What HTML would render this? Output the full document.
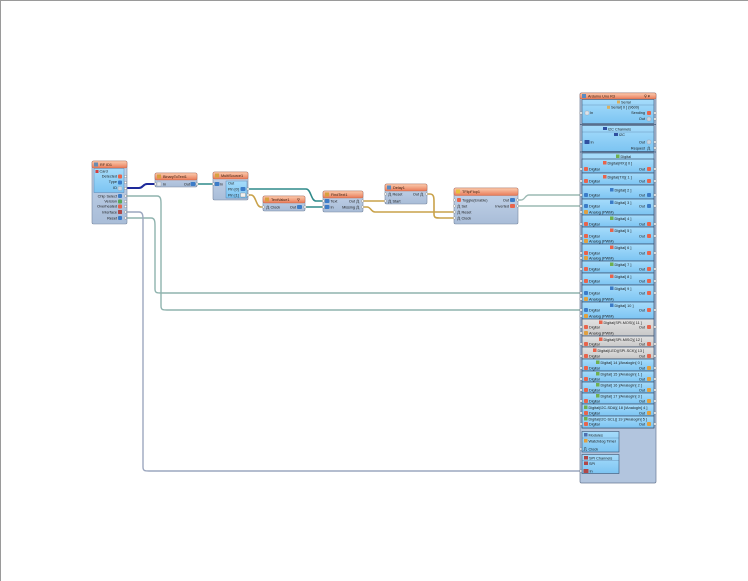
<!DOCTYPE html>
<html><head><meta charset="utf-8">
<style>
html,body{margin:0;padding:0;background:#fff;}
svg{display:block}
text{font-family:"Liberation Sans",sans-serif;font-size:3.8px;fill:#1a1a1a}
.h{font-size:3.8px;fill:#3a2010}
</style></head><body>
<svg width="748" height="581" viewBox="0 0 748 581" xmlns="http://www.w3.org/2000/svg">
<defs>
<linearGradient id="hdr" x1="0" y1="0" x2="0" y2="1"><stop offset="0" stop-color="#fbcdb0"/><stop offset="1" stop-color="#e87a58"/></linearGradient>
<linearGradient id="bd" x1="0" y1="0" x2="0" y2="1"><stop offset="0" stop-color="#c4d4ea"/><stop offset="1" stop-color="#a9bdd8"/></linearGradient>
<linearGradient id="pn" x1="0" y1="0" x2="0" y2="1"><stop offset="0" stop-color="#a6dcfb"/><stop offset="1" stop-color="#7cc4f2"/></linearGradient>
<linearGradient id="gp" x1="0" y1="0" x2="0" y2="1"><stop offset="0" stop-color="#e2e2e2"/><stop offset="1" stop-color="#c8c8c8"/></linearGradient>
</defs>
<rect width="748" height="581" fill="#fff"/>
<line x1="0" y1="0.5" x2="748" y2="0.5" stroke="#9a9a9a" stroke-width="1"/>
<line x1="0.5" y1="0" x2="0.5" y2="581" stroke="#9a9a9a" stroke-width="1"/>

<!-- WIRES -->
<g fill="none" stroke-linecap="round" stroke-linejoin="round">
<path d="M127,188 H139 C143,188 143,184 147,184 H156" stroke="#1e2a9a" stroke-width="2"/>
<path d="M197,184 H213" stroke="#2f8a8a" stroke-width="1.6"/>
<path d="M248,189 H306 C311,189 311,201 316,201 H324" stroke="#2f8a8a" stroke-width="1.6"/>
<path d="M248,195 H251 C256,195 256,207 261,207 H264" stroke="#c9a24a" stroke-width="1.6"/>
<path d="M305,207 H324" stroke="#2f8a8a" stroke-width="1.6"/>
<path d="M363,201 H386" stroke="#c9a24a" stroke-width="1.6"/>
<path d="M363,207 H367 C371,207 371,212 375,212 H455" stroke="#c9a24a" stroke-width="1.6"/>
<path d="M427,194 H430 C434,194 434,198 434,202 V214 C434,218 436,218 440,218 H455" stroke="#c9a24a" stroke-width="1.6"/>
<path d="M518,200 H521 C525,200 525,195 529,195 H581" stroke="#9cbab4" stroke-width="1.4"/>
<path d="M518,206 H521 C525,206 525,206 529,206 H581" stroke="#9cbab4" stroke-width="1.4"/>
<path d="M127,218 H151 C155,218 155,222 155,226 V289 C155,293 157,293 161,293 H581" stroke="#8fb3ae" stroke-width="1.4"/>
<path d="M127,196 H157 C161,196 161,200 161,204 V306 C161,310 163,310 167,310 H581" stroke="#8fb3ae" stroke-width="1.4"/>
<path d="M127,212 H139 C143,212 143,216 143,220 V467 C143,471 145,471 149,471 H581" stroke="#9ca7bf" stroke-width="1.4"/>
</g>

<!-- RFID -->
<g>
<rect x="92" y="161" width="35" height="63" rx="1.5" fill="url(#bd)" stroke="#7888a0" stroke-width="0.6"/>
<rect x="92" y="161" width="35" height="7" rx="1.5" fill="url(#hdr)" stroke="#c06040" stroke-width="0.4"/>
<rect x="94" y="162.5" width="4" height="4" fill="#6a8ab0"/>
<text x="100" y="166" class="h">RF ID1</text>
<rect x="94" y="168.5" width="30" height="24" fill="url(#pn)" stroke="#4a78a8" stroke-width="0.4"/>
<rect x="95.5" y="170" width="3" height="3" fill="#d04040"/>
<text x="99.5" y="172.5">Card</text>
<text x="117" y="177.5" text-anchor="end">Detected</text><rect x="118" y="174.5" width="4" height="4" rx="1" fill="#e8644c"/>
<text x="117" y="183" text-anchor="end">Type</text><rect x="118" y="180.5" width="4" height="4" rx="1" fill="#3c7cc8"/>
<text x="117" y="189" text-anchor="end">ID</text><rect x="118" y="186.5" width="4" height="4" rx="1" fill="#c8d4e0" stroke="#8899aa" stroke-width="0.3"/>
<text x="117" y="197.5" text-anchor="end">Chip Select</text><rect x="118" y="194" width="4" height="4" rx="1" fill="#3c7cc8"/>
<text x="117" y="202.5" text-anchor="end">Version</text><rect x="118" y="199.5" width="4" height="4" rx="1" fill="#58a858"/>
<text x="117" y="207.5" text-anchor="end">Overheated</text><rect x="118" y="204.5" width="4" height="4" rx="1" fill="#e8644c"/>
<text x="117" y="213.5" text-anchor="end">Interface</text><rect x="118" y="210" width="4" height="4" rx="0.5" fill="#b04848"/>
<text x="117" y="219.5" text-anchor="end">Reset</text><rect x="118" y="216" width="4" height="4" rx="1" fill="#3c7cc8"/>
<g fill="#fff" stroke="#777" stroke-width="0.4">
<circle cx="125.5" cy="176.5" r="1.2"/><circle cx="125.5" cy="182.5" r="1.2"/><circle cx="125.5" cy="188.5" r="1.2"/>
<circle cx="125.5" cy="196" r="1.2"/><circle cx="125.5" cy="201.5" r="1.2"/><circle cx="125.5" cy="206.5" r="1.2"/><circle cx="125.5" cy="212" r="1.2"/><circle cx="125.5" cy="218" r="1.2"/>
</g>
</g>

<!-- BinaryToText1 -->
<g>
<rect x="155" y="173" width="42" height="14" rx="1.5" fill="url(#bd)" stroke="#7888a0" stroke-width="0.6"/>
<rect x="155" y="173" width="42" height="7" rx="1.5" fill="url(#hdr)" stroke="#c06040" stroke-width="0.4"/>
<rect x="157" y="174.5" width="4" height="4" fill="#d8a040"/>
<text x="163" y="178" class="h">BinaryToText1</text>
<rect x="157" y="182" width="4" height="4" fill="#dde4ea" stroke="#889" stroke-width="0.3"/>
<text x="163" y="185.5">In</text>
<text x="190" y="185.5" text-anchor="end">Out</text>
<rect x="190.5" y="182" width="5" height="4" rx="1" fill="#3c7cc8"/>
<circle cx="155.5" cy="184" r="1.2" fill="#fff" stroke="#777" stroke-width="0.4"/>
<circle cx="197" cy="184" r="1.2" fill="#fff" stroke="#777" stroke-width="0.4"/>
</g>

<!-- MultiSource1 -->
<g>
<rect x="213" y="172" width="35" height="28" rx="1.5" fill="url(#bd)" stroke="#7888a0" stroke-width="0.6"/>
<rect x="213" y="172" width="35" height="7" rx="1.5" fill="url(#hdr)" stroke="#c06040" stroke-width="0.4"/>
<rect x="215" y="173.5" width="4" height="4" fill="#d8a040"/>
<text x="221" y="177" class="h">MultiSource1</text>
<rect x="214.5" y="182" width="5" height="4" rx="1" fill="#3c7cc8"/>
<text x="220" y="185.5">In</text>
<rect x="226" y="181" width="21" height="17" fill="url(#pn)" stroke="#4a78a8" stroke-width="0.4"/>
<text x="228" y="184.5">Out</text>
<text x="228" y="190.5">Pin [0]</text>
<text x="228" y="196.5">Pin [1]</text>
<rect x="240.5" y="187" width="5" height="4" rx="1" fill="#3c7cc8"/>
<rect x="240.5" y="193" width="5" height="4" rx="0.5" fill="#f0f0f0" stroke="#666" stroke-width="0.3"/>
<circle cx="213.5" cy="184" r="1.2" fill="#fff" stroke="#777" stroke-width="0.4"/>
<circle cx="248" cy="189" r="1.2" fill="#fff" stroke="#777" stroke-width="0.4"/>
<circle cx="248" cy="195" r="1.2" fill="#fff" stroke="#777" stroke-width="0.4"/>
</g>

<!-- TextValue1 -->
<g>
<rect x="263" y="196" width="42" height="15" rx="1.5" fill="url(#bd)" stroke="#7888a0" stroke-width="0.6"/>
<rect x="263" y="196" width="42" height="7" rx="1.5" fill="url(#hdr)" stroke="#c06040" stroke-width="0.4"/>
<rect x="265" y="197.5" width="4" height="4" fill="#d8a040"/>
<text x="271" y="201" class="h">TextValue1</text>
<text x="297" y="201" class="h">⚲</text>
<path d="M266,209 h1 v-3 h1.5 v3 h1" fill="none" stroke="#222" stroke-width="0.4"/>
<text x="270.5" y="208.5">Clock</text>
<text x="296" y="208.5" text-anchor="end">Out</text>
<rect x="297" y="205" width="5" height="4" rx="1" fill="#3c7cc8"/>
<circle cx="263.5" cy="207" r="1.2" fill="#fff" stroke="#777" stroke-width="0.4"/>
<circle cx="305" cy="207" r="1.2" fill="#fff" stroke="#777" stroke-width="0.4"/>
</g>

<!-- FindText1 -->
<g>
<rect x="323" y="191" width="40" height="21" rx="1.5" fill="url(#bd)" stroke="#7888a0" stroke-width="0.6"/>
<rect x="323" y="191" width="40" height="7" rx="1.5" fill="url(#hdr)" stroke="#c06040" stroke-width="0.4"/>
<rect x="325" y="192.5" width="4" height="4" fill="#d8a040"/>
<text x="331" y="196" class="h">FindText1</text>
<rect x="324.5" y="199" width="5" height="4" rx="1" fill="#3c7cc8"/>
<text x="330.5" y="202.5">Text</text>
<rect x="324.5" y="205" width="5" height="4" rx="1" fill="#3c7cc8"/>
<text x="330.5" y="208.5">In</text>
<text x="355" y="202.5" text-anchor="end">Out</text>
<path d="M356,203 h1 v-3 h1.5 v3 h1" fill="none" stroke="#222" stroke-width="0.4"/>
<text x="355" y="208.5" text-anchor="end">Missing</text>
<path d="M356,209 h1 v-3 h1.5 v3 h1" fill="none" stroke="#222" stroke-width="0.4"/>
<circle cx="323.5" cy="201" r="1.2" fill="#fff" stroke="#777" stroke-width="0.4"/>
<circle cx="323.5" cy="207" r="1.2" fill="#fff" stroke="#777" stroke-width="0.4"/>
<circle cx="362.5" cy="201" r="1.2" fill="#fff" stroke="#777" stroke-width="0.4"/>
<circle cx="362.5" cy="207" r="1.2" fill="#fff" stroke="#777" stroke-width="0.4"/>
</g>

<!-- Delay1 -->
<g>
<rect x="385" y="184" width="42" height="20" rx="1.5" fill="url(#bd)" stroke="#7888a0" stroke-width="0.6"/>
<rect x="385" y="184" width="42" height="7" rx="1.5" fill="url(#hdr)" stroke="#c06040" stroke-width="0.4"/>
<rect x="387" y="185.5" width="4" height="4" fill="#5a8ac0"/>
<text x="393" y="189" class="h">Delay1</text>
<path d="M388,196 h1 v-3 h1.5 v3 h1" fill="none" stroke="#222" stroke-width="0.4"/>
<text x="392.5" y="195.5">Reset</text>
<path d="M388,203 h1 v-3 h1.5 v3 h1" fill="none" stroke="#222" stroke-width="0.4"/>
<text x="392.5" y="202.5">Start</text>
<text x="419" y="195.5" text-anchor="end">Out</text>
<path d="M420,196 h1 v-3 h1.5 v3 h1" fill="none" stroke="#222" stroke-width="0.4"/>
<circle cx="385.5" cy="194" r="1.2" fill="#fff" stroke="#777" stroke-width="0.4"/>
<circle cx="385.5" cy="201" r="1.2" fill="#fff" stroke="#777" stroke-width="0.4"/>
<circle cx="426.5" cy="194" r="1.2" fill="#fff" stroke="#777" stroke-width="0.4"/>
</g>

<!-- TFlipFlop1 -->
<g>
<rect x="454" y="188" width="64" height="36" rx="1.5" fill="url(#bd)" stroke="#7888a0" stroke-width="0.6"/>
<rect x="454" y="188" width="64" height="7.5" rx="1.5" fill="url(#hdr)" stroke="#c06040" stroke-width="0.4"/>
<rect x="456" y="189.5" width="4" height="4" fill="#e8c040"/>
<text x="462" y="193.2" class="h">TFlipFlop1</text>
<rect x="457" y="198" width="4" height="4" rx="1" fill="#e8644c"/>
<text x="462" y="201.5">Toggle(Enable)</text>
<path d="M457,208 h1 v-3 h1.5 v3 h1" fill="none" stroke="#222" stroke-width="0.4"/>
<text x="461.5" y="207.5">Set</text>
<path d="M457,214 h1 v-3 h1.5 v3 h1" fill="none" stroke="#222" stroke-width="0.4"/>
<text x="461.5" y="213.5">Reset</text>
<path d="M457,220 h1 v-3 h1.5 v3 h1" fill="none" stroke="#222" stroke-width="0.4"/>
<text x="461.5" y="219.5">Clock</text>
<text x="509" y="201.5" text-anchor="end">Out</text>
<rect x="510" y="198" width="5" height="4" rx="1" fill="#3c7cc8"/>
<text x="509" y="207.5" text-anchor="end">Inverted</text>
<rect x="510" y="204" width="5" height="4" rx="1" fill="#e8644c"/>
<g fill="#fff" stroke="#777" stroke-width="0.4">
<circle cx="454.5" cy="200" r="1.2"/><circle cx="454.5" cy="206" r="1.2"/><circle cx="454.5" cy="212" r="1.2"/><circle cx="454.5" cy="218" r="1.2"/>
<circle cx="517.5" cy="200" r="1.2"/><circle cx="517.5" cy="206" r="1.2"/>
</g>
</g>

<!-- ARDUINO -->
<g>
<rect x="580" y="93" width="76" height="390" rx="1.5" fill="#b2c5de" stroke="#6a7a94" stroke-width="0.7"/>
<rect x="580" y="93" width="76" height="6" rx="1.5" fill="url(#hdr)" stroke="#c06040" stroke-width="0.4"/>
<rect x="582" y="94" width="4" height="4" fill="#5a8ac0"/>
<text x="588" y="97.6" class="h">Arduino Uno R3</text>
<text x="644" y="97.6" class="h">⚲ ▾</text>

<!-- Serial -->
<rect x="582" y="99.5" width="72" height="24" fill="url(#pn)" stroke="#3a5070" stroke-width="0.6"/>
<line x1="582" y1="105" x2="654" y2="105" stroke="#4a6a90" stroke-width="0.3"/>
<rect x="617" y="100.5" width="3" height="3" fill="#d8b060"/>
<text x="621" y="103.5">Serial</text>
<rect x="607" y="105.8" width="3" height="3" fill="#d8b060"/>
<text x="611" y="108.6">Serial[ 0 ] (9600)</text>
<text x="590" y="114">In</text>
<rect x="585" y="111" width="4" height="4" rx="1" fill="#dde4ea" stroke="#889" stroke-width="0.3"/>
<text x="645" y="114" text-anchor="end">Sending</text>
<rect x="647" y="111" width="4" height="4" rx="1" fill="#e8644c"/>
<text x="645" y="120" text-anchor="end">Out</text>
<rect x="647" y="117" width="4" height="4" rx="1" fill="#c8d4e0" stroke="#889" stroke-width="0.3"/>
<line x1="580" y1="124.5" x2="656" y2="124.5" stroke="#3a5070" stroke-width="0.8"/>

<!-- I2C -->
<rect x="582" y="125.5" width="72" height="26" fill="url(#pn)" stroke="#3a5070" stroke-width="0.6"/>
<line x1="582" y1="132" x2="654" y2="132" stroke="#4a6a90" stroke-width="0.3"/>
<rect x="603" y="127" width="4" height="3" fill="#3050a0"/>
<text x="608" y="130.5">I2C Channels</text>
<rect x="614" y="133" width="4" height="3" fill="#3050a0"/>
<text x="619" y="136">I2C</text>
<rect x="584.5" y="140" width="5" height="4" rx="0.5" fill="#3050a0"/>
<text x="590.5" y="143.5">In</text>
<text x="645" y="143.5" text-anchor="end">Out</text>
<rect x="647" y="140" width="4" height="4" rx="1" fill="#c8d4e0" stroke="#889" stroke-width="0.3"/>
<text x="645" y="149.5" text-anchor="end">Request</text>
<path d="M647,150 h1 v-3 h1.5 v3 h1" fill="none" stroke="#222" stroke-width="0.4"/>
<line x1="580" y1="152" x2="656" y2="152" stroke="#3a5070" stroke-width="0.8"/>

<!-- Digital header -->
<rect x="582" y="153" width="72" height="275" fill="url(#pn)" stroke="#3a5070" stroke-width="0.6"/>
<rect x="616" y="154.5" width="3.5" height="3.5" fill="#70b050"/>
<text x="620.5" y="158">Digital</text>

<!-- panels -->
<g stroke="#3a5070" stroke-width="0.7">
<rect x="582" y="159" width="72" height="14" fill="url(#pn)"/>
<rect x="582" y="173" width="72" height="12" fill="url(#pn)"/>
<rect x="582" y="185" width="72" height="14" fill="url(#pn)"/>
<rect x="582" y="199" width="72" height="16" fill="url(#pn)"/>
<rect x="582" y="215" width="72" height="12" fill="url(#pn)"/>
<rect x="582" y="227" width="72" height="17" fill="url(#pn)"/>
<rect x="582" y="244" width="72" height="17" fill="url(#pn)"/>
<rect x="582" y="261" width="72" height="12" fill="url(#pn)"/>
<rect x="582" y="273" width="72" height="12" fill="url(#pn)"/>
<rect x="582" y="285" width="72" height="17" fill="url(#pn)"/>
<rect x="582" y="302" width="72" height="17" fill="url(#pn)"/>
<rect x="582" y="319" width="72" height="17" fill="url(#gp)"/>
<rect x="582" y="336" width="72" height="11" fill="url(#gp)"/>
<rect x="582" y="347" width="72" height="12" fill="url(#gp)"/>
<rect x="582" y="359" width="72" height="12" fill="url(#pn)"/>
<rect x="582" y="371" width="72" height="11" fill="url(#pn)"/>
<rect x="582" y="382" width="72" height="11" fill="url(#pn)"/>
<rect x="582" y="393" width="72" height="11" fill="url(#pn)"/>
<rect x="582" y="404" width="72" height="12" fill="url(#pn)"/>
<rect x="582" y="416" width="72" height="12" fill="url(#pn)"/>
</g>

<!-- panel labels -->
<g>
<rect x="603" y="161" width="3.5" height="3.5" fill="#e8644c"/><text x="607.5" y="164.5">Digital(RX)[ 0 ]</text>
<rect x="603" y="175" width="3.5" height="3.5" fill="#e8644c"/><text x="607.5" y="178.5">Digital(TX)[ 1 ]</text>
<rect x="610" y="188" width="3.5" height="3.5" fill="#3c7cc8"/><text x="614.5" y="191.5">Digital[ 2 ]</text>
<rect x="610" y="200.5" width="3.5" height="3.5" fill="#3c7cc8"/><text x="614.5" y="204">Digital[ 3 ]</text>
<rect x="610" y="216.5" width="3.5" height="3.5" fill="#70b050"/><text x="614.5" y="220">Digital[ 4 ]</text>
<rect x="610" y="228.5" width="3.5" height="3.5" fill="#e8644c"/><text x="614.5" y="232">Digital[ 5 ]</text>
<rect x="610" y="245.5" width="3.5" height="3.5" fill="#e8644c"/><text x="614.5" y="249">Digital[ 6 ]</text>
<rect x="610" y="262.5" width="3.5" height="3.5" fill="#70b050"/><text x="614.5" y="266">Digital[ 7 ]</text>
<rect x="610" y="274.5" width="3.5" height="3.5" fill="#e8644c"/><text x="614.5" y="278">Digital[ 8 ]</text>
<rect x="610" y="286.5" width="3.5" height="3.5" fill="#3c7cc8"/><text x="614.5" y="290">Digital[ 9 ]</text>
<rect x="610" y="303.5" width="3.5" height="3.5" fill="#3c7cc8"/><text x="614.5" y="307">Digital[ 10 ]</text>
<rect x="599" y="320.5" width="3.5" height="3.5" fill="#e8644c"/><text x="603.5" y="324">Digital(SPI-MOSI)[ 11 ]</text>
<rect x="599" y="337.5" width="3.5" height="3.5" fill="#e8644c"/><text x="603.5" y="341">Digital(SPI-MISO)[ 12 ]</text>
<rect x="593" y="348.5" width="3.5" height="3.5" fill="#e8644c"/><text x="597.5" y="352">Digital(LED)(SPI-SCK)[ 13 ]</text>
<rect x="596" y="360.5" width="3.5" height="3.5" fill="#70b050"/><text x="600.5" y="364">Digital[ 14 ]/AnalogIn[ 0 ]</text>
<rect x="596" y="372" width="3.5" height="3.5" fill="#70b050"/><text x="600.5" y="375.5">Digital[ 15 ]/AnalogIn[ 1 ]</text>
<rect x="596" y="383" width="3.5" height="3.5" fill="#70b050"/><text x="600.5" y="386.5">Digital[ 16 ]/AnalogIn[ 2 ]</text>
<rect x="596" y="394" width="3.5" height="3.5" fill="#70b050"/><text x="600.5" y="397.5">Digital[ 17 ]/AnalogIn[ 3 ]</text>
<rect x="584" y="405.5" width="3.5" height="3.5" fill="#70b050"/><text x="588.5" y="409">Digital(I2C-SDA)[ 18 ]/AnalogIn[ 4 ]</text>
<rect x="584" y="417" width="3.5" height="3.5" fill="#70b050"/><text x="588.5" y="420.5">Digital(I2C-SCL)[ 19 ]/AnalogIn[ 5 ]</text>
</g>

<!-- Digital pin rows -->
<g>
<text x="589" y="170.5">Digital</text><text x="645" y="170.5" text-anchor="end">Out</text>
<text x="589" y="182.5">Digital</text><text x="645" y="182.5" text-anchor="end">Out</text>
<text x="589" y="196.5">Digital</text><text x="645" y="196.5" text-anchor="end">Out</text>
<text x="589" y="207.5">Digital</text><text x="645" y="207.5" text-anchor="end">Out</text>
<text x="589" y="213.5">Analog (PWM)</text>
<text x="589" y="225.5">Digital</text><text x="645" y="225.5" text-anchor="end">Out</text>
<text x="589" y="237.5">Digital</text><text x="645" y="237.5" text-anchor="end">Out</text>
<text x="589" y="242.5">Analog (PWM)</text>
<text x="589" y="254.5">Digital</text><text x="645" y="254.5" text-anchor="end">Out</text>
<text x="589" y="259.5">Analog (PWM)</text>
<text x="589" y="270.5">Digital</text><text x="645" y="270.5" text-anchor="end">Out</text>
<text x="589" y="282.5">Digital</text><text x="645" y="282.5" text-anchor="end">Out</text>
<text x="589" y="294.5">Digital</text><text x="645" y="294.5" text-anchor="end">Out</text>
<text x="589" y="300.5">Analog (PWM)</text>
<text x="589" y="311.5">Digital</text><text x="645" y="311.5" text-anchor="end">Out</text>
<text x="589" y="317.5">Analog (PWM)</text>
<text x="589" y="328.5">Digital</text><text x="645" y="328.5" text-anchor="end">Out</text>
<text x="589" y="334.5">Analog (PWM)</text>
<text x="589" y="345.5">Digital</text><text x="645" y="345.5" text-anchor="end">Out</text>
<text x="589" y="357.5">Digital</text><text x="645" y="357.5" text-anchor="end">Out</text>
<text x="589" y="369.5">Digital</text><text x="645" y="369.5" text-anchor="end">Out</text>
<text x="589" y="380.5">Digital</text><text x="645" y="380.5" text-anchor="end">Out</text>
<text x="589" y="391.5">Digital</text><text x="645" y="391.5" text-anchor="end">Out</text>
<text x="589" y="402.5">Digital</text><text x="645" y="402.5" text-anchor="end">Out</text>
<text x="589" y="414.5">Digital</text><text x="645" y="414.5" text-anchor="end">Out</text>
<text x="589" y="425.5">Digital</text><text x="645" y="425.5" text-anchor="end">Out</text>
</g>
<!-- left icons -->
<g fill="#e8644c">
<rect x="584" y="167" width="4" height="4" rx="1"/>
<rect x="584" y="179" width="4" height="4" rx="1"/>
<rect x="584" y="193" width="4" height="4" rx="1" fill="#3c7cc8"/>
<rect x="584" y="204" width="4" height="4" rx="1" fill="#3c7cc8"/>
<rect x="584" y="210" width="4" height="4" rx="1" fill="#e0a040"/>
<rect x="584" y="222" width="4" height="4" rx="1"/>
<rect x="584" y="234" width="4" height="4" rx="1"/>
<rect x="584" y="239" width="4" height="4" rx="1" fill="#e0a040"/>
<rect x="584" y="251" width="4" height="4" rx="1"/>
<rect x="584" y="256" width="4" height="4" rx="1" fill="#e0a040"/>
<rect x="584" y="267" width="4" height="4" rx="1"/>
<rect x="584" y="279" width="4" height="4" rx="1"/>
<rect x="584" y="291" width="4" height="4" rx="1" fill="#3c7cc8"/>
<rect x="584" y="297" width="4" height="4" rx="1" fill="#e0a040"/>
<rect x="584" y="308" width="4" height="4" rx="1" fill="#3c7cc8"/>
<rect x="584" y="314" width="4" height="4" rx="1" fill="#e0a040"/>
<rect x="584" y="325" width="4" height="4" rx="1"/>
<rect x="584" y="331" width="4" height="4" rx="1" fill="#e0a040"/>
<rect x="584" y="342" width="4" height="4" rx="1"/>
<rect x="584" y="354" width="4" height="4" rx="1"/>
<rect x="584" y="366" width="4" height="4" rx="1"/>
<rect x="584" y="377" width="4" height="4" rx="1"/>
<rect x="584" y="388" width="4" height="4" rx="1"/>
<rect x="584" y="399" width="4" height="4" rx="1"/>
<rect x="584" y="411" width="4" height="4" rx="1"/>
<rect x="584" y="422" width="4" height="4" rx="1"/>
</g>
<!-- right icons -->
<g fill="#e8644c">
<rect x="647" y="167" width="4" height="4" rx="1"/>
<rect x="647" y="179" width="4" height="4" rx="1"/>
<rect x="647" y="193" width="4" height="4" rx="1" fill="#3c7cc8"/>
<rect x="647" y="204" width="4" height="4" rx="1" fill="#3c7cc8"/>
<rect x="647" y="222" width="4" height="4" rx="1"/>
<rect x="647" y="234" width="4" height="4" rx="1"/>
<rect x="647" y="251" width="4" height="4" rx="1"/>
<rect x="647" y="267" width="4" height="4" rx="1"/>
<rect x="647" y="279" width="4" height="4" rx="1"/>
<rect x="647" y="291" width="4" height="4" rx="1"/>
<rect x="647" y="308" width="4" height="4" rx="1"/>
<rect x="647" y="325" width="4" height="4" rx="1"/>
<rect x="647" y="342" width="4" height="4" rx="1"/>
<rect x="647" y="354" width="4" height="4" rx="1"/>
<rect x="647" y="366" width="4" height="4" rx="1" fill="#e0a040"/>
<rect x="647" y="377" width="4" height="4" rx="1" fill="#e0a040"/>
<rect x="647" y="388" width="4" height="4" rx="1" fill="#e0a040"/>
<rect x="647" y="399" width="4" height="4" rx="1" fill="#e0a040"/>
<rect x="647" y="411" width="4" height="4" rx="1" fill="#e0a040"/>
<rect x="647" y="422" width="4" height="4" rx="1" fill="#e0a040"/>
</g>
<!-- pin circles -->
<g fill="#fff" stroke="#777" stroke-width="0.4">
<circle cx="581" cy="113" r="1.2"/><circle cx="655" cy="113" r="1.2"/><circle cx="655" cy="119" r="1.2"/>
<circle cx="581" cy="142" r="1.2"/><circle cx="655" cy="142" r="1.2"/><circle cx="655" cy="148" r="1.2"/>
<circle cx="581" cy="169" r="1.2"/><circle cx="655" cy="169" r="1.2"/>
<circle cx="581" cy="181" r="1.2"/><circle cx="655" cy="181" r="1.2"/>
<circle cx="581" cy="195" r="1.2"/><circle cx="655" cy="195" r="1.2"/>
<circle cx="581" cy="206" r="1.2"/><circle cx="655" cy="206" r="1.2"/><circle cx="581" cy="212" r="1.2"/>
<circle cx="581" cy="224" r="1.2"/><circle cx="655" cy="224" r="1.2"/>
<circle cx="581" cy="236" r="1.2"/><circle cx="655" cy="236" r="1.2"/><circle cx="581" cy="241" r="1.2"/>
<circle cx="581" cy="253" r="1.2"/><circle cx="655" cy="253" r="1.2"/><circle cx="581" cy="258" r="1.2"/>
<circle cx="581" cy="269" r="1.2"/><circle cx="655" cy="269" r="1.2"/>
<circle cx="581" cy="281" r="1.2"/><circle cx="655" cy="281" r="1.2"/>
<circle cx="581" cy="293" r="1.2"/><circle cx="655" cy="293" r="1.2"/><circle cx="581" cy="299" r="1.2"/>
<circle cx="581" cy="310" r="1.2"/><circle cx="655" cy="310" r="1.2"/><circle cx="581" cy="316" r="1.2"/>
<circle cx="581" cy="327" r="1.2"/><circle cx="655" cy="327" r="1.2"/><circle cx="581" cy="333" r="1.2"/>
<circle cx="581" cy="344" r="1.2"/><circle cx="655" cy="344" r="1.2"/>
<circle cx="581" cy="356" r="1.2"/><circle cx="655" cy="356" r="1.2"/>
<circle cx="581" cy="368" r="1.2"/><circle cx="655" cy="368" r="1.2"/>
<circle cx="581" cy="379" r="1.2"/><circle cx="655" cy="379" r="1.2"/>
<circle cx="581" cy="390" r="1.2"/><circle cx="655" cy="390" r="1.2"/>
<circle cx="581" cy="401" r="1.2"/><circle cx="655" cy="401" r="1.2"/>
<circle cx="581" cy="413" r="1.2"/><circle cx="655" cy="413" r="1.2"/>
<circle cx="581" cy="424" r="1.2"/><circle cx="655" cy="424" r="1.2"/>
<circle cx="581" cy="449" r="1.2"/><circle cx="581" cy="471" r="1.2"/>
</g>

<!-- Modules -->
<rect x="582" y="431.5" width="37" height="20.5" fill="url(#pn)" stroke="#3a5070" stroke-width="0.6"/>
<line x1="582" y1="438" x2="619" y2="438" stroke="#4a6a90" stroke-width="0.3"/>
<rect x="584" y="433" width="3.5" height="3.5" fill="#5070b0"/>
<text x="588.5" y="436.5">Modules</text>
<rect x="584" y="439" width="3.5" height="3.5" fill="#e0a040"/>
<text x="588.5" y="442.5">Watchdog Timer</text>
<path d="M583.5,450.5 h1 v-3 h1.5 v3 h1" fill="none" stroke="#222" stroke-width="0.4"/>
<text x="588.5" y="450.5">Clock</text>

<!-- SPI -->
<rect x="582" y="454.5" width="37" height="19" fill="url(#pn)" stroke="#3a5070" stroke-width="0.6"/>
<line x1="582" y1="460.5" x2="619" y2="460.5" stroke="#4a6a90" stroke-width="0.3"/>
<rect x="584" y="456" width="4" height="3.5" fill="#b04848"/>
<text x="589" y="459.5">SPI Channels</text>
<rect x="584" y="461.5" width="4" height="3.5" fill="#b04848"/>
<text x="589" y="465">SPI</text>
<rect x="583.5" y="469" width="5" height="4" rx="0.5" fill="#b04848"/>
<text x="589.5" y="472.5">In</text>
</g>
</svg>
</body></html>
